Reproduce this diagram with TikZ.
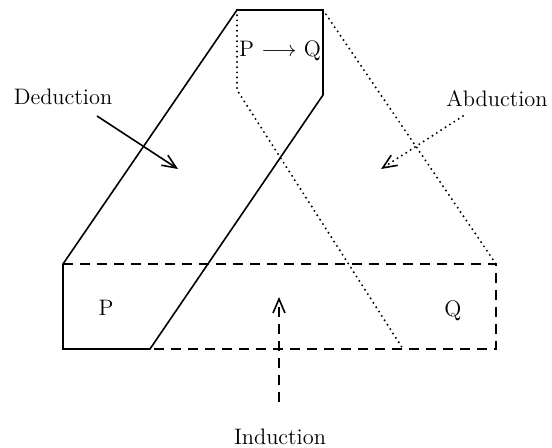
\documentclass[tikz,border=0pt]{standalone}
\usetikzlibrary{arrows.meta}
\begin{document}
\begin{tikzpicture}[x=0.5pt,y=-0.5pt,
  lbl/.style={font=\fontsize{11.2}{13}\selectfont, inner sep=0pt},
  solidln/.style={line width=0.8pt, line join=miter},
  dotln/.style={line width=1.1pt, dash pattern=on 0pt off 2.6pt, line cap=round},
  dashln/.style={line width=0.8pt, dash pattern=on 5pt off 3.5pt},
  arr/.style={-{Straight Barb[length=7pt,width=6pt,line width=0.8pt]}}]
\useasboundingbox (0,0) rectangle (552,448);
% corner coordinates
\coordinate (A) at (63,264);
\coordinate (B) at (237,10);
\coordinate (C) at (323,10);
\coordinate (D) at (323,95);
\coordinate (E) at (150,349);
\coordinate (F) at (63,349);
\coordinate (G) at (237,90);
\coordinate (H) at (403,349);
\coordinate (I) at (496,264);
\coordinate (J) at (496,349);
% dashed rectangle (induction)
\draw[dashln] (A) -- (I) -- (J) -- (E);
% dotted shape (abduction)
\draw[dotln] (B) -- (G) -- (H);
\draw[dotln] (C) -- (I);
% solid shape (deduction)
\draw[solidln] (A) -- (B) -- (C) -- (D) -- (E) -- (F) -- cycle;
% labels
\node[lbl] (pq) at (280,51) {P $\longrightarrow$ Q};
\node[lbl] (p) at (106,308) {P};
\node[lbl] (q) at (453,311) {Q};
\node[lbl] (ded) at (63,97) {Deduction};
\node[lbl] (abd) at (497,99) {Abduction};
\node[lbl] (ind) at (280,437) {Induction};
% arrows
\coordinate (d1) at (97,116);
\coordinate (d2) at (178,169);
\coordinate (a1) at (463,116);
\coordinate (a2) at (381,169);
\coordinate (i1) at (279,402);
\coordinate (i2) at (279,297);
\draw[solidln,arr] (d1) -- (d2);
\draw[dotln,arr] (a1) -- (a2);
\draw[dashln,arr] (i1) -- (i2);
\end{tikzpicture}
\end{document}
